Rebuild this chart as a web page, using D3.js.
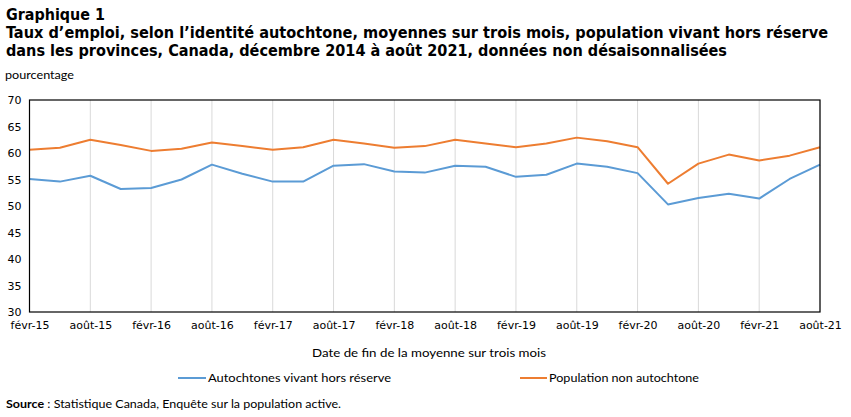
<!DOCTYPE html>
<html><head><meta charset="utf-8">
<script src="https://cdn.jsdelivr.net/npm/d3@7"></script>
<style>body{margin:0;background:#fff}svg{display:block}</style>
</head><body>
<script>
const periods = ["févr-15","mai-15","août-15","nov-15","févr-16","mai-16","août-16","nov-16","févr-17","mai-17","août-17","nov-17","févr-18","mai-18","août-18","nov-18","févr-19","mai-19","août-19","nov-19","févr-20","mai-20","août-20","nov-20","févr-21","mai-21","août-21"];
const tickLabels = ["févr-15","août-15","févr-16","août-16","févr-17","août-17","févr-18","août-18","févr-19","août-19","févr-20","août-20","févr-21","août-21"];
const autochtones = [55.1,54.6,55.7,53.2,53.4,55.0,57.8,56.1,54.6,54.6,57.6,57.9,56.5,56.3,57.6,57.4,55.5,55.9,58.0,57.4,56.2,50.3,51.5,52.3,51.4,55.1,57.8];
const nonAutochtone = [60.6,61.0,62.5,61.5,60.4,60.8,62.0,61.3,60.6,61.1,62.5,61.8,61.0,61.3,62.5,61.8,61.1,61.8,62.9,62.2,61.1,54.2,58.0,59.7,58.6,59.5,61.1];
const yTicks = [30,35,40,45,50,55,60,65,70];
const seriesNames = ["Autochtones vivant hors réserve","Population non autochtone"];
const colors = ["#5B9BD5","#ED7D31"];

const W=851,H=417;
const svg=d3.select("body").append("svg").attr("width",W).attr("height",H);
const L=29.5,R=820,T=100,B=312;
const x=d3.scalePoint().domain(periods).range([L,R]);
const y=d3.scaleLinear().domain([30,70]).range([B,T]);

function fit(sel,w){sel.attr("textLength",w).attr("lengthAdjust","spacingAndGlyphs");return sel;}

// titles
const tf="'DejaVu Sans Condensed','DejaVu Sans',sans-serif";
fit(svg.append("text").attr("x",6).attr("y",20).attr("font-family",tf).attr("font-weight","bold").attr("font-size",15).text("Graphique 1"),99);
fit(svg.append("text").attr("x",6).attr("y",38).attr("font-family",tf).attr("font-weight","bold").attr("font-size",15).text("Taux d’emploi, selon l’identité autochtone, moyennes sur trois mois, population vivant hors réserve"),822);
fit(svg.append("text").attr("x",6).attr("y",56).attr("font-family",tf).attr("font-weight","bold").attr("font-size",15).text("dans les provinces, Canada, décembre 2014 à août 2021, données non désaisonnalisées"),721);

const nf="Lato,'Liberation Sans',sans-serif";
fit(svg.append("text").attr("x",5).attr("y",79).attr("font-family",nf).attr("font-size",12).text("pourcentage"),69);

// gridlines
svg.append("g").selectAll("line").data(tickLabels).join("line")
 .attr("x1",d=>x(d)).attr("x2",d=>x(d)).attr("y1",T).attr("y2",B)
 .attr("stroke","#d9d9d9").attr("stroke-width",1);

// axes
const xAxis=d3.axisBottom(x).tickValues(tickLabels).tickSize(0).tickPadding(9);
const gx=svg.append("g").attr("transform",`translate(0,${B})`).call(xAxis);
gx.select(".domain").remove();
gx.selectAll("text").attr("font-family","'DejaVu Sans',Verdana,sans-serif").attr("font-size",11).attr("fill","#000");

const yAxis=d3.axisLeft(y).tickValues(yTicks).tickSize(0).tickPadding(8);
const gy=svg.append("g").attr("transform",`translate(${L},0)`).call(yAxis);
gy.select(".domain").remove();
gy.selectAll("text").attr("font-family","'DejaVu Sans',Verdana,sans-serif").attr("font-size",11).attr("fill","#000");

// lines
const line=d3.line().x((d,i)=>x(periods[i])).y(d=>y(d));
[autochtones,nonAutochtone].forEach((s,k)=>{
 svg.append("path").datum(s).attr("d",line).attr("fill","none").attr("stroke",colors[k]).attr("stroke-width",2).attr("stroke-linejoin","round");
});

// border
svg.append("rect").attr("x",L).attr("y",T).attr("width",R-L).attr("height",B-T).attr("fill","none").attr("stroke","#000").attr("stroke-width",1.2);

// x title
fit(svg.append("text").attr("x",429).attr("y",357).attr("text-anchor","middle").attr("font-family",nf).attr("font-size",12).text("Date de fin de la moyenne sur trois mois"),234);

// legend
const leg=[{x1:178,x2:206,tx:208,w:183},{x1:520,x2:547,tx:549,w:150}];
leg.forEach((l,k)=>{
 svg.append("line").attr("x1",l.x1).attr("x2",l.x2).attr("y1",378).attr("y2",378).attr("stroke",colors[k]).attr("stroke-width",2);
 fit(svg.append("text").attr("x",l.tx).attr("y",382).attr("font-family",nf).attr("font-size",12).text(seriesNames[k]),l.w);
});

// source
const st=svg.append("text").attr("x",6).attr("y",408).attr("font-family",nf).attr("font-size",12);
st.append("tspan").attr("font-weight","bold").text("Source");
st.append("tspan").text(" : Statistique Canada, Enquête sur la population active.");
fit(st,335);
</script>
</body></html>
